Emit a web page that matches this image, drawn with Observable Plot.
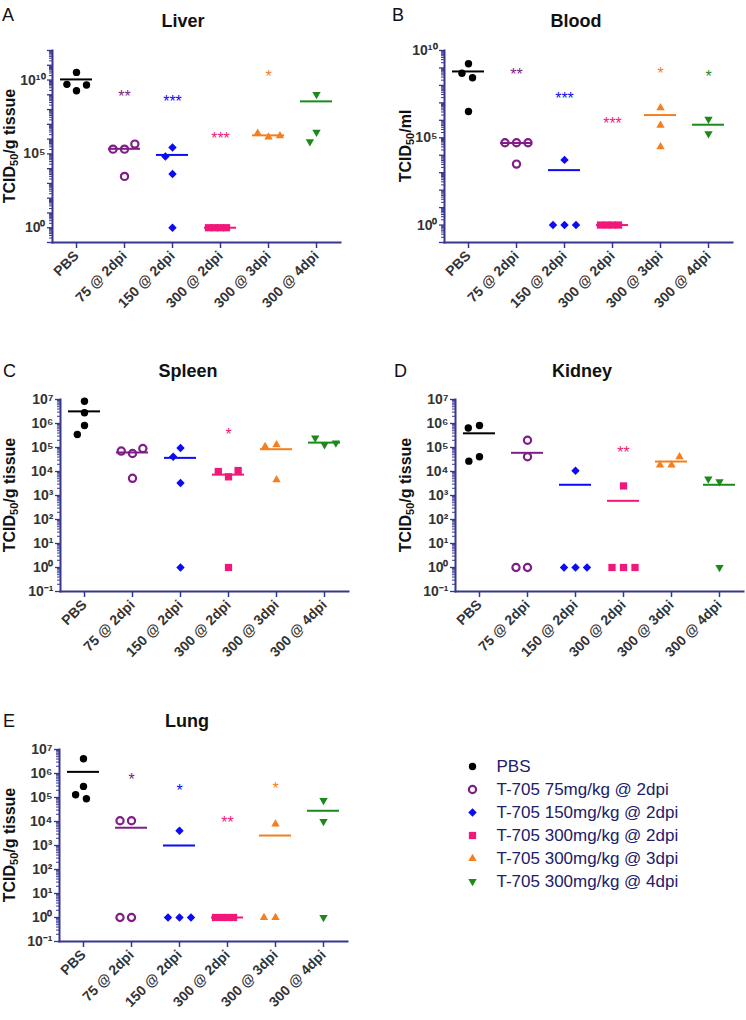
<!DOCTYPE html>
<html><head><meta charset="utf-8">
<script src="https://cdn.jsdelivr.net/npm/d3@7"></script>
<script src="https://cdn.jsdelivr.net/npm/@observablehq/plot@0.6"></script>
<style>
body{margin:0;background:#fff;}
#root{position:relative;width:746px;height:1020px;overflow:hidden;font-family:"Liberation Sans",Arial,sans-serif;}
.abs{position:absolute;line-height:1;}
.letter{font-size:18px;color:#111;}
.title{font-size:18px;font-weight:bold;color:#111;transform:translateX(-50%);white-space:nowrap;}
.ylab{font-size:16px;font-weight:bold;color:#111;white-space:nowrap;transform:translate(-50%,-50%) rotate(-90deg);}
.ylab sub{font-size:11px;vertical-align:-3px;}
</style></head>
<body><div id="root"></div>
<script>
// ---------- data ----------
const categories = ["PBS", "75 @ 2dpi", "150 @ 2dpi", "300 @ 2dpi", "300 @ 3dpi", "300 @ 4dpi"];
const seriesNames = ["PBS", "T-705 75mg/kg @ 2dpi", "T-705 150mg/kg @ 2dpi", "T-705 300mg/kg @ 2dpi", "T-705 300mg/kg @ 3dpi", "T-705 300mg/kg @ 4dpi"];

const liverValues = [[3.3e10, 1.9e9, 5.1e9, 4.6e9], [3.0e3, 2.1e5, 2.1e5, 4.6e5], [1, 4.3e3, 2.7e5, 6.6e4], [1, 1, 1, 1], [1.35e6, 2.5e6, 1.66e6], [1.07e9, 2.95e6, 6.8e5]];
const liverMeans = [1.1e10, 2.2e5, 8.5e4, 1, 1.8e6, 3.6e8];
const liverStars = ["", "**", "***", "***", "*", ""];
const liverStarY = [null, 1.26e9, 6.3e8, 1.9e6, 3e10, null];

const bloodValues = [[1.74e9, 3.2e6, 5e8, 2.75e8], [3.1e3, 5.2e4, 5.2e4, 5.2e4], [5.4e3, 1, 1, 1], [1, 1, 1, 1], [5.2e6, 5.1e5, 3e4], [1.15e6, 1.74e5]];
const bloodMeans = [6.3e8, 5e4, 1.4e3, 1, 2e6, 5.6e5];
const bloodStars = ["", "**", "***", "***", "*", "*"];
const bloodStarY = [null, 6.6e8, 3e7, 1e6, 8e8, 5e8];

const spleenValues = [[2.8e6, 8.3e5, 8.5e6, 3.5e5], [5.2e3, 5.6e4, 7.1e4, 9.1e4], [1, 3.3e3, 9.6e4, 4.1e4], [1, 6e3, 1e4, 1.1e4], [4.5e3, 1.3e5, 1.1e5], [1.3e5, 2.5e5, 1.55e5]];
const spleenMeans = [3.2e6, 6.2e4, 3.7e4, 7.4e3, 8.5e4, 1.6e5];
const spleenStars = ["", "", "", "*", "", ""];
const spleenStarY = [null, null, null, 4.9e5, null, null];

const kidneyValues = [[8.3e5, 6.5e5, 4.1e4, 2.7e4], [2e5, 4.1e4, 1, 1], [1.07e4, 1, 1, 1], [2.5e3, 1, 1, 1], [1.86e4, 1.86e4, 4.1e4], [1, 3.8e3, 4.9e3]];
const kidneyMeans = [3.9e5, 6e4, 2.8e3, 600, 2.6e4, 2.8e3];
const kidneyStars = ["", "", "", "**", "", ""];
const kidneyStarY = [null, null, null, 9.1e4, null, null];

const lungValues = [[4.1e6, 2.9e5, 1.3e5, 8.9e4], [1.07e4, 1.07e4, 1, 1], [4.1e3, 1, 1, 1], [1, 1, 1, 1], [7.8e3, 1, 1], [7.6e4, 1e4, 1]];
const lungMeans = [1.17e6, 5.5e3, 1e3, 1, 2.6e3, 2.8e4];
const lungStars = ["", "*", "*", "**", "*", ""];
const lungStarY = [null, 8.3e5, 2.7e5, 1.3e4, 3.5e5, null];

const liverTickLabels = [0, 5, 10];   // labelled exponents
const bloodTickLabels = [0, 5, 10];
const smallTickLabels = [-1, 0, 1, 2, 3, 4, 5, 6, 7];

// ---------- styles ----------
const navy = "#36368f";
const seriesColor = ["#000000", "#7e1e86", "#0b0bf5", "#f2187a", "#f57f1f", "#1b8a1b"];
const seriesStyle = [
  {symbol: "circle", fill: "#000000", r: 3.7},
  {symbol: "circle", fill: "none", stroke: "#7e1e86", strokeWidth: 2.2, r: 3.6},
  {symbol: "diamond2", fill: "#0b0bf5", r: 3.8},
  {symbol: "square", fill: "#f2187a", r: 4.1},
  {symbol: "triangle", fill: "#f57f1f", r: 3.1},
  {symbol: "triangle", fill: "#1b8a1b", r: 3.1, rotate: 180}
];

const supMap = {"0": "⁰", "1": "¹", "2": "²", "3": "³", "4": "⁴", "5": "⁵", "6": "⁶", "7": "⁷", "8": "⁸", "9": "⁹", "-": "⁻"};
const expOf = v => Math.round(Math.log10(v));
const fmtPow = v => "10" + String(expOf(v)).split("").map(c => supMap[c]).join("");

const root = document.getElementById("root");
function addDiv(cls, html, left, top) {
  const d = document.createElement("div");
  d.className = "abs " + cls;
  d.innerHTML = html;
  d.style.left = left + "px";
  d.style.top = top + "px";
  root.appendChild(d);
  return d;
}

function panel(cfg) {
  const {values, means, stars, starY, expMin, expMax, labeled, frame, pageLeft, width, packedPink} = cfg;
  const rows = [];
  values.forEach((vals, i) => vals.forEach(v => rows.push({cat: categories[i], i, v})));
  const decades = d3.range(expMin, expMax + 1).map(k => Math.pow(10, k));
  const minors = [];
  for (let k = expMin; k < expMax; k++) for (let m = 2; m <= 9; m++) minors.push(m * Math.pow(10, k));
  const top = frame.y0 - 50;
  const height = (frame.y1 - frame.y0) + 130;
  const marks = [
    Plot.axisY({ticks: minors, tickSize: 3, tickFormat: () => "", stroke: navy, strokeWidth: 1, label: null}),
    Plot.axisY({ticks: decades, tickSize: 5, tickPadding: 2, stroke: navy, strokeWidth: 1.3, fill: "#333",
      fontSize: 14, fontWeight: "bold", label: null,
      tickFormat: v => labeled.includes(expOf(v)) ? fmtPow(v) : ""}),
    Plot.axisFx({anchor: "bottom", tickSize: 6, tickPadding: 5, tickRotate: -45, stroke: navy, strokeWidth: 1.5,
      fill: "#333", fontSize: 14, fontWeight: "bold", label: null}),
    Plot.frame({anchor: "left", facet: "super", stroke: navy, strokeWidth: 2}),
    Plot.frame({anchor: "bottom", facet: "super", stroke: navy, strokeWidth: 2})
  ];
  categories.forEach((c, i) => {
    const st = seriesStyle[i];
    const data = rows.filter(d => d.i === i);
    const spacing = (packedPink && i === 3) ? 6 : 11.5;
    marks.push(Plot.dot(data, Plot.dodgeX({anchor: "middle", padding: spacing - 2 * st.r},
      {fx: "cat", y: "v", r: st.r, symbol: st.symbol, fill: st.fill, stroke: st.stroke || "none",
       strokeWidth: st.strokeWidth || 0, rotate: st.rotate || 0})));
  });
  categories.forEach((c, i) => {
    marks.push(Plot.tickY([{cat: c, v: means[i]}], {fx: "cat", y: "v", stroke: seriesColor[i], strokeWidth: 2, insetLeft: 8, insetRight: 8}));
    if (stars[i]) marks.push(Plot.text([{cat: c, v: starY[i], s: stars[i]}],
      {fx: "cat", y: "v", text: "s", fill: seriesColor[i], fontSize: 16, fontWeight: "normal", dy: 4}));
  });
  const svg = Plot.plot({
    width, height,
    marginLeft: frame.x0 - pageLeft, marginRight: pageLeft + width - frame.x1,
    marginTop: 50, marginBottom: 80,
    style: "overflow:visible;background:transparent;font-family:'Liberation Sans',Arial,sans-serif;font-size:14px;",
    fx: {domain: categories, padding: 0, label: null},
    y: {type: "log", domain: [Math.pow(10, expMin), Math.pow(10, expMax)], label: null},
    marks
  });
  const wrap = document.createElement("div");
  wrap.className = "abs";
  wrap.style.left = pageLeft + "px";
  wrap.style.top = top + "px";
  wrap.appendChild(svg);
  root.appendChild(wrap);
}

panel({values: liverValues, means: liverMeans, stars: liverStars, starY: liverStarY, expMin: -1, expMax: 12,
  labeled: liverTickLabels, frame: {x0: 52, x1: 340, y0: 50, y1: 242}, pageLeft: 0, width: 372, packedPink: true});
panel({values: bloodValues, means: bloodMeans, stars: bloodStars, starY: bloodStarY, expMin: -1, expMax: 10,
  labeled: bloodTickLabels, frame: {x0: 444, x1: 732, y0: 50, y1: 242}, pageLeft: 372, width: 374, packedPink: true});
panel({values: spleenValues, means: spleenMeans, stars: spleenStars, starY: spleenStarY, expMin: -1, expMax: 7,
  labeled: smallTickLabels, frame: {x0: 59, x1: 348, y0: 399, y1: 591}, pageLeft: 0, width: 372, packedPink: false});
panel({values: kidneyValues, means: kidneyMeans, stars: kidneyStars, starY: kidneyStarY, expMin: -1, expMax: 7,
  labeled: smallTickLabels, frame: {x0: 455, x1: 743, y0: 399, y1: 591}, pageLeft: 372, width: 374, packedPink: false});
panel({values: lungValues, means: lungMeans, stars: lungStars, starY: lungStarY, expMin: -1, expMax: 7,
  labeled: smallTickLabels, frame: {x0: 59, x1: 347, y0: 749, y1: 941}, pageLeft: 0, width: 372, packedPink: true});

// titles, letters, axis labels
addDiv("letter", "A", 2, 6);
addDiv("letter", "B", 392, 6);
addDiv("letter", "C", 3, 362);
addDiv("letter", "D", 394, 362);
addDiv("letter", "E", 3, 712);
addDiv("title", "Liver", 183, 12);
addDiv("title", "Blood", 576, 12);
addDiv("title", "Spleen", 188, 362);
addDiv("title", "Kidney", 582, 362);
addDiv("title", "Lung", 187, 712);
addDiv("ylab", "TCID<sub>50</sub>/g tissue", 11, 146);
addDiv("ylab", "TCID<sub>50</sub>/ml", 407, 146);
addDiv("ylab", "TCID<sub>50</sub>/g tissue", 11, 495);
addDiv("ylab", "TCID<sub>50</sub>/g tissue", 407, 495);
addDiv("ylab", "TCID<sub>50</sub>/g tissue", 11, 845);

// legend
const legendMarks = seriesNames.map((name, i) => {
  const st = seriesStyle[i];
  return Plot.dot([name], {y: d => d, frameAnchor: "left", r: st.r, symbol: st.symbol, fill: st.fill,
    stroke: st.stroke || "none", strokeWidth: st.strokeWidth || 0, rotate: st.rotate || 0});
});
legendMarks.push(Plot.text(seriesNames, {y: d => d, text: d => d, frameAnchor: "left", dx: 24, textAnchor: "start",
  fill: "#20206a", fontSize: 17}));
const legend = Plot.plot({
  width: 286, height: 138, marginLeft: 12, marginRight: 0, marginTop: 11.5, marginBottom: 11.5,
  style: "overflow:visible;background:transparent;font-family:'Liberation Sans',Arial,sans-serif;",
  y: {domain: seriesNames, type: "point", padding: 0, axis: null},
  marks: legendMarks
});
const lw = document.createElement("div");
lw.className = "abs";
lw.style.left = "460px";
lw.style.top = "753.5px";
lw.appendChild(legend);
root.appendChild(lw);
</script>
</body></html>
